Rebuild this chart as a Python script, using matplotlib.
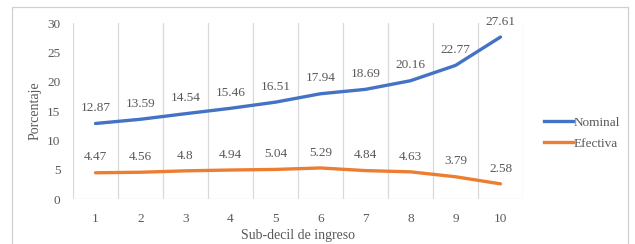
import matplotlib
matplotlib.use("Agg")
import matplotlib.pyplot as plt
from matplotlib.patches import Rectangle
from matplotlib.lines import Line2D

categories = [1, 2, 3, 4, 5, 6, 7, 8, 9, 10]
nominal = [12.87, 13.59, 14.54, 15.46, 16.51, 17.94, 18.69, 20.16, 22.77, 27.61]
efectiva = [4.47, 4.56, 4.8, 4.94, 5.04, 5.29, 4.84, 4.63, 3.79, 2.58]
nominal_labels = ["12.87", "13.59", "14.54", "15.46", "16.51", "17.94", "18.69", "20.16", "22.77", "27.61"]
efectiva_labels = ["4.47", "4.56", "4.8", "4.94", "5.04", "5.29", "4.84", "4.63", "3.79", "2.58"]
yticks = [0, 5, 10, 15, 20, 25, 30]

plt.rcParams['font.family'] = ['Liberation Serif', 'DejaVu Serif']
TXT = '#595959'
GRID = '#D9D9D9'
BLUE = '#4472C4'
ORANGE = '#ED7D31'

W, H = 635, 244
fig = plt.figure(figsize=(W / 100, H / 100), dpi=100)
ax = fig.add_axes([73 / W, 1 - 199 / H, 450 / W, 176 / H])

# outer border
fig.patches.append(Rectangle((12 / W, -0.05), 616 / W, 1 - 7 / H + 0.05,
                             transform=fig.transFigure, fill=False,
                             edgecolor='#D0D0D0', linewidth=0.9))

ax.set_xlim(0.5, 10.5)
ax.set_ylim(0, 30)

for b in range(1, 11):
    ax.axvline(b + 0.5, color=GRID, linewidth=0.9, zorder=0)
ax.axvline(0.5, color=GRID, linewidth=0.9, zorder=0)
ax.axhline(0, color=GRID, linewidth=0.9, zorder=0)

ax.plot(categories, nominal, color=BLUE, linewidth=2.4, solid_capstyle='round', zorder=3)
ax.plot(categories, efectiva, color=ORANGE, linewidth=2.4, solid_capstyle='round', zorder=3)

for x, y, s in zip(categories, nominal, nominal_labels):
    ax.annotate(s, (x, y), xytext=(0, 11), textcoords='offset points',
                ha='center', va='center', fontsize=9.5, color=TXT)
for x, y, s in zip(categories, efectiva, efectiva_labels):
    ax.annotate(s, (x, y), xytext=(0, 11), textcoords='offset points',
                ha='center', va='center', fontsize=9.5, color=TXT)

ax.set_xticks(categories)
ax.set_xticklabels([str(c) for c in categories])
ax.set_yticks(yticks)
ax.tick_params(length=0, labelsize=9.5, colors=TXT)
ax.tick_params(axis='x', pad=10)
ax.tick_params(axis='y', pad=9)
for sp in ax.spines.values():
    sp.set_visible(False)
ax.set_xlabel('Sub-decil de ingreso', fontsize=10, color=TXT, labelpad=3)
ax.set_ylabel('Porcentaje', fontsize=10, color=TXT, labelpad=4)

# legend
handles = [Line2D([], [], color=BLUE, linewidth=2.4),
           Line2D([], [], color=ORANGE, linewidth=2.4)]
leg = fig.legend(handles, ['Nominal', 'Efectiva'], loc='center left',
                 bbox_to_anchor=(532 / W, 1 - 133 / H), frameon=False,
                 fontsize=9.5, handlelength=2.2, handletextpad=0.05,
                 labelspacing=0.65, labelcolor=TXT)

fig.savefig('out.png', dpi=100)
